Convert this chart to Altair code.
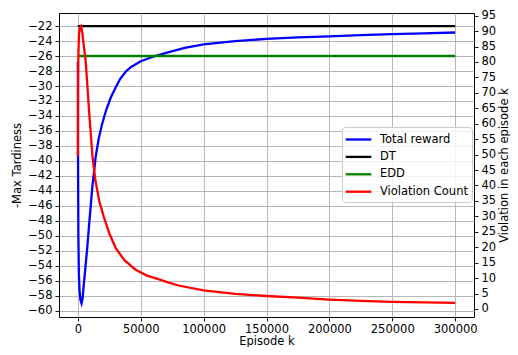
import altair as alt
import pandas as pd

# ---- data ----
episodes_reward = [0, 150, 400, 800, 1300, 2000, 2900, 3800, 4700, 6000, 7300, 9400,
                   11500, 14200, 16500, 19400, 22500, 26000, 30000, 33800, 38000, 42000,
                   50000, 61400, 71600, 85000, 100000, 125000, 150000, 175000, 200000,
                   225000, 250000, 275000, 300000]
total_reward = [-26.8, -40.0, -50.0, -55.0, -57.2, -58.5, -59.0, -58.3, -56.5, -54.2, -51.9, -47.6,
                -43.5, -39.4, -37.1, -35.0, -33.2, -31.6, -30.2, -29.0, -28.1, -27.5,
                -26.7, -26.0, -25.5, -24.9, -24.46, -24.0, -23.72, -23.5, -23.37,
                -23.2, -23.08, -22.97, -22.86]

episodes_violation = [0, 150, 400, 900, 1600, 2600, 3500, 4500, 6300, 8900, 11600, 14000,
                      17000, 20500, 25000, 30000, 37000, 45600, 55000, 64000, 71600, 80000,
                      100000, 125000, 150000, 175000, 200000, 225000, 250000, 275000, 300000]
violation_count = [49.5, 68.0, 82.0, 89.0, 91.0, 91.6, 89.5, 86.0, 79.9, 64.2, 49.5, 41.5,
                   35.0, 30.0, 24.5, 19.8, 15.8, 12.8, 10.8, 9.65, 8.6, 7.6,
                   6.0, 4.9, 4.2, 3.65, 3.05, 2.65, 2.3, 2.15, 2.0]

baseline_k = [0, 300000]
dt_values = [-22, -22]
edd_values = [-26, -26]

series_names = ["Total reward", "DT", "EDD", "Violation Count"]
series_colors = ["#0000ff", "#000000", "#008000", "#ff0000"]

x_ticks = [0, 50000, 100000, 150000, 200000, 250000, 300000]
left_ticks = [-60, -58, -56, -54, -52, -50, -48, -46, -44, -42, -40, -38, -36, -34, -32,
              -30, -28, -26, -24, -22]
right_ticks = [0, 5, 10, 15, 20, 25, 30, 35, 40, 45, 50, 55, 60, 65, 70, 75, 80, 85, 90, 95]

# ---- tables ----
left_df = pd.concat([
    pd.DataFrame({"k": episodes_reward, "value": total_reward, "series": series_names[0]}),
    pd.DataFrame({"k": baseline_k, "value": dt_values, "series": series_names[1]}),
    pd.DataFrame({"k": baseline_k, "value": edd_values, "series": series_names[2]}),
], ignore_index=True)
right_df = pd.DataFrame({"k": episodes_violation, "value": violation_count,
                         "series": series_names[3]})

FONT = "DejaVu Sans"
FS = 11.5
LW = 2.3

W, H = 415, 304

color = alt.Color(
    "series:N",
    scale=alt.Scale(domain=series_names, range=series_colors),
    sort=series_names,
    legend=alt.Legend(
        title=None, orient="none", legendX=283, legendY=114,
        symbolType="M-1.83,0H1.83", symbolSize=196, symbolStrokeWidth=LW,
        symbolOffset=4, labelOffset=13, rowPadding=3.4, padding=4,
        fillColor="rgba(255,255,255,0.8)", strokeColor="#cccccc", cornerRadius=3,
        labelFont=FONT, labelFontSize=FS, labelColor="black",
    ),
)

x_scale = alt.Scale(domain=[-15000, 315000], nice=False, zero=False)
x_axis = alt.Axis(values=x_ticks, format="d", title="Episode k",
                  labelPadding=2, titlePadding=1)

left = alt.Chart(left_df).mark_line(strokeWidth=LW).encode(
    x=alt.X("k:Q", scale=x_scale, axis=x_axis),
    y=alt.Y("value:Q", scale=alt.Scale(domain=[-60.82, -20.26], nice=False, zero=False),
            axis=alt.Axis(values=left_ticks, format="d", orient="left",
                          title="-Max Tardiness", titlePadding=5)),
    color=color,
)

right = alt.Chart(right_df).mark_line(strokeWidth=LW).encode(
    x=alt.X("k:Q", scale=x_scale, axis=x_axis),
    y=alt.Y("value:Q", scale=alt.Scale(domain=[-2.6, 95.85], nice=False, zero=False),
            axis=alt.Axis(values=right_ticks, format="d", orient="right",
                          title="Violation in each episode k", titleAngle=270,
                          titleX=30, titleY=H / 2, titleAlign="center",
                          titleBaseline="middle")),
    color=color,
)

chart = alt.layer(left, right).resolve_scale(y="independent").properties(
    width=W, height=H,
    autosize=alt.AutoSizeParams(type="none"),
    padding={"left": 51, "top": 5, "right": 36, "bottom": 30},
).configure_view(
    stroke="black", strokeWidth=1
).configure_axis(
    labelFont=FONT, labelFontSize=FS, labelColor="black",
    titleFont=FONT, titleFontSize=FS, titleFontWeight="normal", titleColor="black",
    tickColor="black", tickSize=4, tickWidth=0.9, labelPadding=3,
    grid=True, gridColor="#b0b0b0", gridWidth=0.9, domain=False,
)

chart.save("out.html", embed_options={"renderer": "svg", "actions": False})
